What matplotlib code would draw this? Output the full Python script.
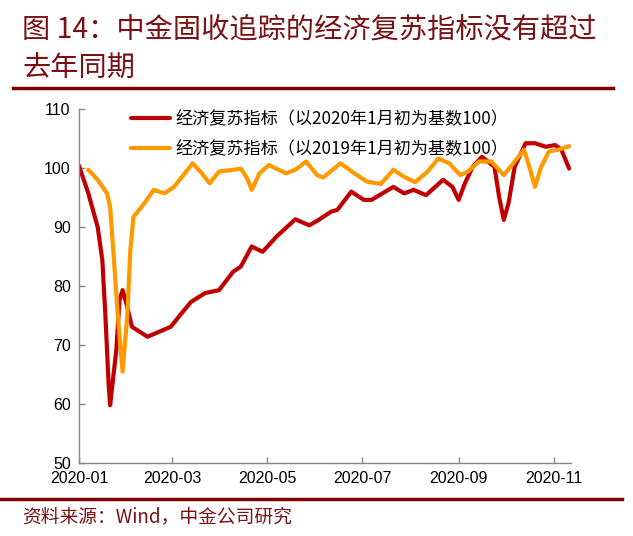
"""经济复苏指标：以2020年1月初 / 2019年1月初为基数100."""

import pandas as pd
import matplotlib
matplotlib.use('Agg')
import matplotlib.pyplot as plt
import matplotlib.dates as mdates

plt.rcParams['font.family'] = ['Noto Sans CJK SC', 'DejaVu Sans']

# 以2020年1月初为基数100
dates_2020 = ['2020-01-01', '2020-01-07', '2020-01-13', '2020-01-16', '2020-01-18',
              '2020-01-20', '2020-01-21', '2020-01-25', '2020-01-27', '2020-01-29',
              '2020-02-01', '2020-02-04', '2020-02-14', '2020-02-22', '2020-02-29',
              '2020-03-07', '2020-03-13', '2020-03-22', '2020-03-31', '2020-04-09',
              '2020-04-14', '2020-04-21', '2020-04-28', '2020-05-07', '2020-05-19',
              '2020-05-28', '2020-06-03', '2020-06-11', '2020-06-15', '2020-06-24',
              '2020-07-02', '2020-07-07', '2020-07-21', '2020-07-28', '2020-08-03',
              '2020-08-11', '2020-08-22', '2020-08-28', '2020-09-01', '2020-09-05',
              '2020-09-10', '2020-09-16', '2020-09-24', '2020-09-27', '2020-09-30',
              '2020-10-03', '2020-10-07', '2020-10-14', '2020-10-20', '2020-10-27',
              '2020-11-02', '2020-11-06', '2020-11-11']
index_2020 = [100.4, 95.7, 90.0, 84.4, 74.8,
              63.6, 59.8, 69.2, 77.6, 79.3,
              76.5, 73.1, 71.4, 72.3, 73.1,
              75.4, 77.3, 78.8, 79.3, 82.4,
              83.3, 86.7, 85.8, 88.4, 91.3,
              90.3, 91.2, 92.6, 92.9, 96.0,
              94.6, 94.6, 96.8, 95.7, 96.3,
              95.4, 98.0, 96.8, 94.6, 97.4,
              100.2, 101.9, 100.2, 95.1, 91.2,
              94.0, 100.2, 104.2, 104.2, 103.6,
              103.9, 103.1, 99.9]

# 以2019年1月初为基数100
dates_2019 = ['2020-01-07', '2020-01-13', '2020-01-19', '2020-01-21', '2020-01-23',
              '2020-01-26', '2020-01-29', '2020-02-01', '2020-02-03', '2020-02-05',
              '2020-02-12', '2020-02-18', '2020-02-25', '2020-03-02', '2020-03-09',
              '2020-03-14', '2020-03-20', '2020-03-25', '2020-03-31', '2020-04-09',
              '2020-04-14', '2020-04-18', '2020-04-21', '2020-04-26', '2020-05-02',
              '2020-05-13', '2020-05-19', '2020-05-26', '2020-06-02', '2020-06-06',
              '2020-06-17', '2020-06-26', '2020-07-04', '2020-07-13', '2020-07-21',
              '2020-07-28', '2020-08-04', '2020-08-12', '2020-08-19', '2020-08-26',
              '2020-09-02', '2020-09-07', '2020-09-14', '2020-09-22', '2020-09-30',
              '2020-10-07', '2020-10-13', '2020-10-17', '2020-10-20', '2020-10-24',
              '2020-10-29', '2020-11-04', '2020-11-11']
index_2019 = [99.7, 98.0, 95.7, 93.4, 86.1,
              74.8, 65.5, 74.8, 86.1, 91.7,
              94.0, 96.3, 95.7, 96.8, 99.1,
              100.8, 99.1, 97.4, 99.4, 99.7,
              99.9, 98.3, 96.3, 99.1, 100.5,
              99.1, 99.7, 101.1, 98.8, 98.4,
              100.8, 99.1, 97.7, 97.3, 99.7,
              98.5, 97.6, 99.4, 101.6, 100.8,
              98.8, 99.4, 101.1, 101.1, 98.8,
              101.1, 103.1, 99.7, 96.8, 100.2,
              102.8, 103.1, 103.7]

labels = ['经济复苏指标（以2020年1月初为基数100）',
          '经济复苏指标（以2019年1月初为基数100）']
tick_dates = ['2020-01-01', '2020-03-01', '2020-05-01',
              '2020-07-01', '2020-09-01', '2020-11-01']

fig = plt.figure(figsize=(6.33, 5.36), dpi=100)
ax = fig.add_axes([0.1248, 0.1362, 0.7768, 0.6604])

ax.plot(pd.to_datetime(dates_2020), index_2020, color='#C00000', lw=3.0,
        solid_joinstyle='round', solid_capstyle='round', label=labels[0])
ax.plot(pd.to_datetime(dates_2019), index_2019, color='#FF9900', lw=3.0,
        solid_joinstyle='round', solid_capstyle='round', label=labels[1])

ax.set_ylim(50, 110)
ax.set_yticks(range(50, 111, 10))
ax.set_xlim(pd.Timestamp('2020-01-01'), pd.Timestamp('2020-11-12'))
ax.set_xticks(pd.to_datetime(tick_dates))
ax.xaxis.set_major_formatter(mdates.DateFormatter('%Y-%m'))

for s in ['top', 'right']:
    ax.spines[s].set_visible(False)
for s in ['left', 'bottom']:
    ax.spines[s].set_color('#888888')
    ax.spines[s].set_linewidth(1.0)
ax.tick_params(direction='in', length=4, color='#888888', width=1.0,
               labelsize=11.5, pad=6)
for t in ax.get_xticklabels() + ax.get_yticklabels():
    t.set_family(['Liberation Sans', 'DejaVu Sans'])

ax.legend(loc='upper left', bbox_to_anchor=(0.105, 0.997), frameon=False,
          fontsize=12.3, handlelength=2.3, handletextpad=0.3,
          labelspacing=0.7, borderpad=0, borderaxespad=0)

# 标题与来源
title_color = '#7B1113'
fig.text(0.035, 0.943, '图 14：中金固收追踪的经济复苏指标没有超过',
         fontsize=20.3, color=title_color, va='center', ha='left')
fig.text(0.035, 0.872, '去年同期', fontsize=20.3, color=title_color,
         va='center', ha='left')
fig.add_artist(plt.Line2D([0.02, 0.968], [0.836, 0.836],
                          color='#7F0000', lw=2.5, transform=fig.transFigure))
fig.add_artist(plt.Line2D([0.0, 0.982], [0.069, 0.069],
                          color='#7F0000', lw=2.5, transform=fig.transFigure))
fig.text(0.035, 0.035, '资料来源：Wind，中金公司研究', fontsize=13.5,
         color=title_color, va='center', ha='left', style='italic')

plt.savefig('out.png', dpi=100)
